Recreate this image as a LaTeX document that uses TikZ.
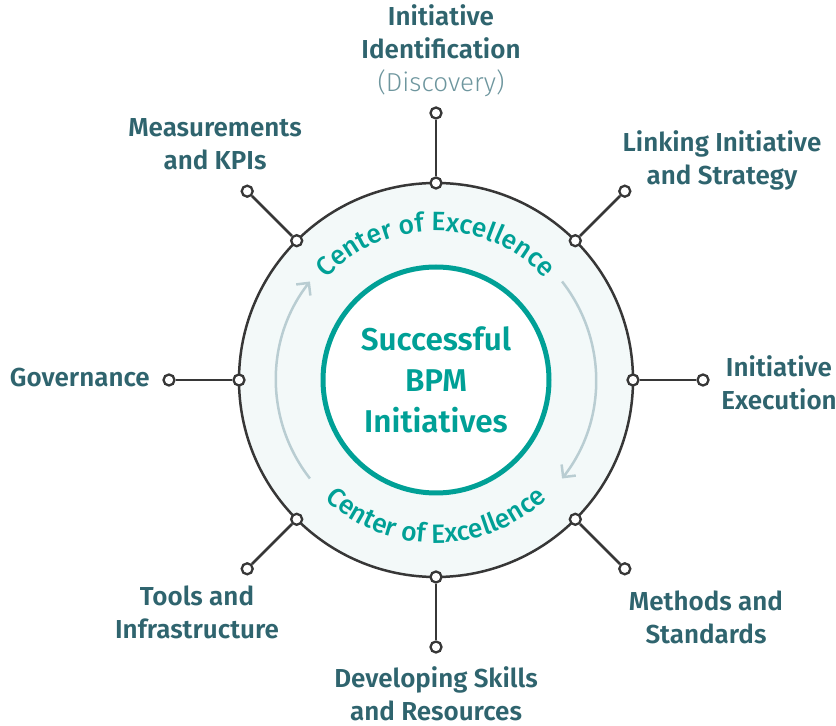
\documentclass[tikz,border=0pt]{standalone}
\usepackage{fontspec}
\IfFontExistsTF{Fira Sans SemiBold}{\setmainfont{Fira Sans}[BoldFont={Fira Sans SemiBold}]}{\setmainfont{Fira Sans}}
\IfFontExistsTF{Fira Sans Light}{\newfontfamily\lightfam{Fira Sans Light}}{\newfontfamily\lightfam{Fira Sans}}
\IfFontExistsTF{Fira Sans Medium}{\newfontfamily\medfam{Fira Sans Medium}}{\newfontfamily\medfam{Fira Sans}}
\usetikzlibrary{decorations.text,arrows.meta}
\definecolor{lab}{RGB}{47,100,110}
\definecolor{disc}{RGB}{110,150,158}
\definecolor{tealc}{RGB}{0,160,150}
\definecolor{arrc}{RGB}{185,205,210}
\definecolor{bgc}{RGB}{243,249,249}
\definecolor{dk}{RGB}{55,55,55}
\newcommand\coestyle{\medfam\fontsize{26.5}{26.5}\selectfont\color{tealc}}
\begin{document}
\begin{tikzpicture}[x=1pt,y=1pt,
  dot/.style={circle,draw=dk,fill=white,line width=2.3pt,inner sep=0pt,minimum size=11pt},
  conn/.style={draw=dk,line width=2.5pt},
  lbl/.style={font=\fontsize{26}{33}\selectfont\bfseries,text=lab,align=center,inner sep=0pt},
  arr/.style={draw=arrc,line width=2.5pt,-{Straight Barb[length=9pt,width=18pt]}}]
\useasboundingbox (0,0) rectangle (836,726);
\coordinate (C) at (436,346);
\node[circle,draw=dk,fill=bgc,line width=2.5pt,minimum size=394pt,inner sep=0pt] (outer) at (C) {};
% arrows
\draw[arr] ([shift={(218:160)}]C) arc[start angle=218,end angle=142,radius=160];
\draw[arr] ([shift={(38:160)}]C) arc[start angle=38,end angle=-38,radius=160];
% center of excellence
\path[decorate,decoration={text along path,text={|\coestyle|Center of Excellence},text align=center}]
  ([shift={(170:149)}]C) arc[start angle=170,end angle=10,radius=149];
\path[decorate,decoration={text along path,text={|\coestyle|Center of Excellence},text align=center}]
  ([shift={(190:163)}]C) arc[start angle=190,end angle=350,radius=163];
% core
\node[circle,draw=tealc,fill=white,line width=5pt,minimum size=226pt,inner sep=0pt,
  align=center,text=tealc,font=\fontsize{31.5}{41}\selectfont\bfseries] (core) at (C)
  {Successful\\BPM\\Initiatives};
% dots
\foreach \n/\a in {n/90,ne/45,e/0,se/-45,s/-90,sw/-135,w/180,nw/135}{
  \node[dot] (d\n) at ([shift={(\a:197)}]C) {};
  \node[dot] (o\n) at ([shift={(\a:267)}]C) {};
  \draw[conn] (d\n) -- (o\n);
}
% labels
\node[lbl] (ln) at (441,675) {Initiative\\Identification\\{\lightfam\mdseries\color{disc}(Discovery)}};
\node[lbl] (lnw) at (215,582) {Measurements\\and KPIs};
\node[lbl] (lne) at (722,566) {Linking Initiative\\and Strategy};
\node[lbl,anchor=east] (lw) at (150,348) {Governance};
\node[lbl] (le) at (779,343) {Initiative\\Execution};
\node[lbl] (lse) at (706,109) {Methods and\\Standards};
\node[lbl] (ls) at (436,32) {Developing Skills\\and Resources};
\node[lbl] (lsw) at (197,114) {Tools and\\Infrastructure};
\end{tikzpicture}
\end{document}
